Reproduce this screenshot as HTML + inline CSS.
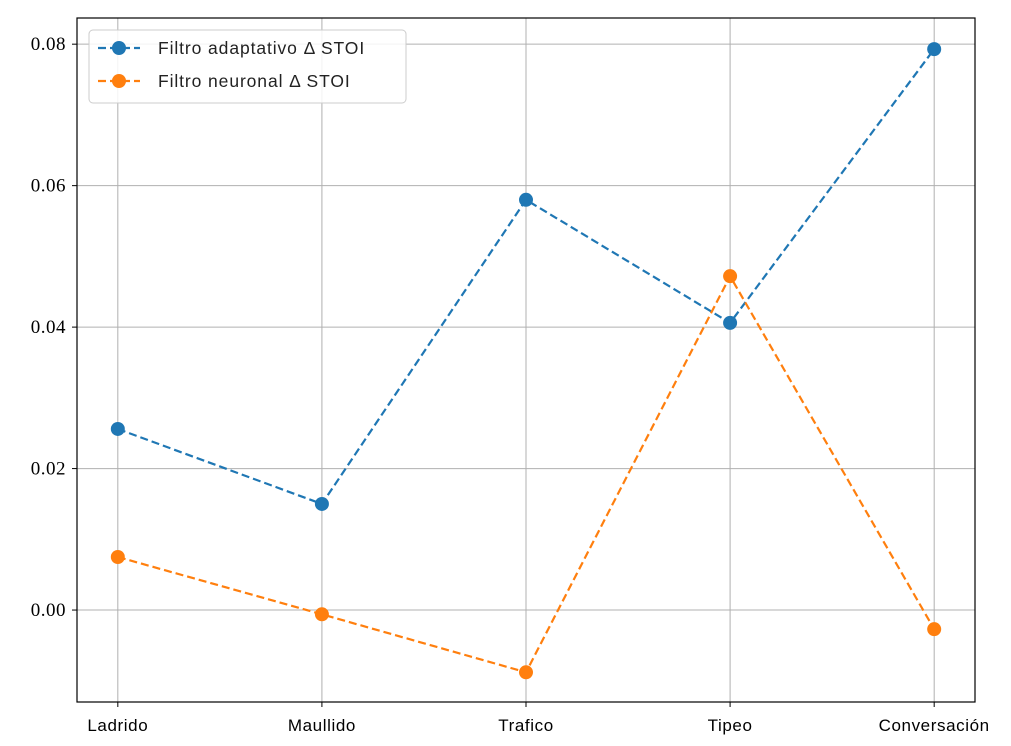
<!DOCTYPE html>
<html><head><meta charset="utf-8"><style>
body{margin:0;background:#fff;}
svg{display:block;}
.tk{font-family:"Liberation Serif",serif;font-size:19px;fill:#000;letter-spacing:0.5px;}
.xl{font-family:"Liberation Sans",sans-serif;font-size:17px;fill:#000;letter-spacing:0.6px;}
.lg{font-family:"Liberation Sans",sans-serif;font-size:17.5px;fill:#222;letter-spacing:0.9px;}
</style></head><body>
<svg id="chart" width="1011" height="746"></svg>
<script>
const categories=["Ladrido","Maullido","Trafico","Tipeo","Conversación"];
const adaptiveValues=[0.0256,0.0150,0.0580,0.0406,0.0793];
const neuralValues=[0.0075,-0.0006,-0.0088,0.0472,-0.0027];
const yTicks=[0.00,0.02,0.04,0.06,0.08];
const yTickLabels=["0.00","0.02","0.04","0.06","0.08"];
const seriesNames=["Filtro adaptativo Δ STOI","Filtro neuronal Δ STOI"];

const L=77,R=975,T=18,B=702;
const xMin=-0.2,xMax=categories.length-1+0.2,yMin=-0.0130,yMax=0.0837;
const sx=i=>L+(i-xMin)/(xMax-xMin)*(R-L);
const sy=v=>B-(v-yMin)/(yMax-yMin)*(B-T);
const svg=document.getElementById('chart');
const NS="http://www.w3.org/2000/svg";
function mk(tag,attrs,parent){const e=document.createElementNS(NS,tag);for(const k in attrs)e.setAttribute(k,attrs[k]);(parent||svg).appendChild(e);return e;}

const grid=mk('g',{});


categories.forEach((c,i)=>{
  const x=sx(i);
  const gl=mk('line',{x1:x,x2:x,y1:T,y2:B,stroke:'#b0b0b0','stroke-width':1},grid);
  
  
  const tk=mk('line',{x1:x,x2:x,y1:B,y2:B+5,stroke:'#000'});
  
  
  const t=mk('text',{x:x,y:B+29,'text-anchor':'middle',class:'xl'});
  t.textContent=c;
  
  
});
yTicks.forEach((v,i)=>{
  const y=sy(v);
  const gl=mk('line',{x1:L,x2:R,y1:y,y2:y,stroke:'#b0b0b0','stroke-width':1},grid);
  
  
  const tk=mk('line',{x1:L-5,x2:L,y1:y,y2:y,stroke:'#000'});
  
  
  const t=mk('text',{x:L-11,y:y+6,'text-anchor':'end',class:'tk'});
  t.textContent=yTickLabels[i];
  
  
});

function series(vals,color,name){
  const g=mk('g',{});
  
  
  const pts=vals.map((v,i)=>sx(i)+','+sy(v)).join(' ');
  const pl=mk('polyline',{points:pts,fill:'none',stroke:color,'stroke-width':2.2,'stroke-dasharray':'8,4'},g);
  
  
  vals.forEach((v,i)=>{
    const c=mk('circle',{cx:sx(i),cy:sy(v),r:7,fill:color},g);
    
    
  });
}
series(adaptiveValues,'#1f77b4','adaptive-series');
series(neuralValues,'#ff7f0e','neural-series');

const frame=mk('rect',{x:L,y:T,width:R-L,height:B-T,fill:'none',stroke:'#000','stroke-width':1.2});



const lg=mk('g',{});


mk('rect',{x:89,y:30,width:317,height:73,rx:4,fill:'#fff','fill-opacity':0.85,stroke:'#ccc'},lg);
[['#1f77b4',48],['#ff7f0e',81]].forEach((d,i)=>{
  const e=mk('g',{},lg);
  
  
  mk('line',{x1:98,x2:140,y1:d[1],y2:d[1],stroke:d[0],'stroke-width':2.2,'stroke-dasharray':'8,4'},e);
  mk('circle',{cx:119,cy:d[1],r:7,fill:d[0]},e);
  const t=mk('text',{x:158,y:d[1]+6,class:'lg'},e);
  t.textContent=seriesNames[i];
});
</script>
</body></html>
